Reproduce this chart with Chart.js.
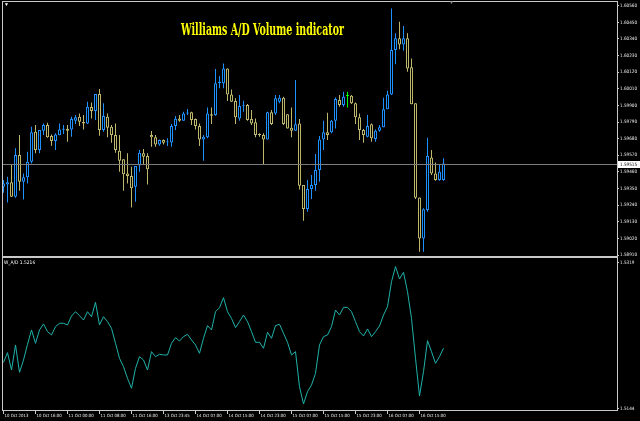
<!DOCTYPE html>
<html><head><meta charset="utf-8">
<script src="https://cdn.jsdelivr.net/npm/chart.js@4.4.1/dist/chart.umd.min.js"></script>
<style>
html,body{margin:0;padding:0;background:#000;width:640px;height:421px;overflow:hidden;}
#wrap{position:relative;width:640px;height:421px;background:#000;}
canvas{position:absolute;left:0;}
#c1{top:0;}
#c2{top:257px;}
.t{position:absolute;white-space:nowrap;}
#title{left:181px;top:22px;font-family:'DejaVu Serif Condensed','DejaVu Serif',serif;font-weight:bold;font-size:16.5px;line-height:16px;color:#ffff00;transform-origin:0 0;}
#hdr{left:4px;top:259px;line-height:7px;color:#ffffff;}
#m1{left:4px;top:2px;font-size:5px;line-height:5px;color:#ffffff;}
#m2{left:449px;top:0px;font-size:5px;line-height:5px;color:#909090;}
</style></head><body>
<div id="wrap">
<canvas id="c1" width="640" height="257"></canvas>
<canvas id="c2" width="640" height="164"></canvas>
<div id="title" class="t">Williams A/D Volume indicator</div>
<div id="hdr" class="t"></div>
<div id="m1" class="t">▼</div>
<div id="m2" class="t">▼</div>
</div>
<script>
// ---- data ----
const timeLabels = ["10 Oct 2013","10 Oct 16:00","11 Oct 00:00","11 Oct 08:00","11 Oct 16:00","13 Oct 23:45","14 Oct 07:00","14 Oct 15:00","14 Oct 23:00","15 Oct 07:00","15 Oct 15:00","15 Oct 23:00","16 Oct 07:00","16 Oct 15:00"];
const priceTicks = [1.58910,1.59020,1.59130,1.59240,1.59350,1.59460,1.59570,1.59680,1.59790,1.59900,1.60010,1.60120,1.60230,1.60340,1.60450,1.60560];
const wadTicks = [1.5319, 1.5144];

const opens = [1.59362,1.59377,1.59391,1.59296,1.59572,1.59395,1.59424,1.59527,1.59726,1.59605,
1.59733,1.59770,1.59697,1.59664,1.59702,1.59739,1.59746,1.59741,1.59799,1.59825,
1.59790,1.59781,1.59889,1.59863,1.59975,1.59737,1.59825,1.59759,1.59704,1.59600,
1.59543,1.59450,1.59433,1.59362,1.59503,1.59583,1.59565,1.59704,1.59689,1.59642,
1.59671,1.59655,1.59655,1.59764,1.59814,1.59799,1.59847,1.59854,1.59810,1.59764,
1.59675,1.59689,1.59841,1.59836,1.60046,1.60046,1.60145,1.59973,1.59929,1.59814,
1.59894,1.59903,1.59810,1.59788,1.59711,1.59704,1.59675,1.59854,1.59847,1.59925,
1.59951,1.59841,1.59753,1.59733,1.59781,1.59373,1.59214,1.59347,1.59373,1.59472,
1.59675,1.59722,1.59722,1.59799,1.59936,1.59903,1.59962,1.59964,1.59914,1.59821,
1.59737,1.59693,1.59775,1.59678,1.59733,1.59755,1.59874,1.59973,1.60267,1.60344,
1.60304,1.60344,1.60152,1.59914,1.59291,1.59020,1.59208,1.59556,1.59450,1.59406,
1.59406];
const highs = [1.59406,1.59428,1.59505,1.59616,1.59704,1.59450,1.59594,1.59759,1.59770,1.59737,
1.59781,1.59786,1.59708,1.59715,1.59781,1.59770,1.59770,1.59825,1.59836,1.59847,
1.59836,1.59925,1.59920,1.59975,1.60008,1.59914,1.59847,1.59770,1.59781,1.59704,
1.59543,1.59583,1.59494,1.59499,1.59605,1.59611,1.59583,1.59730,1.59704,1.59675,
1.59675,1.59682,1.59777,1.59830,1.59836,1.59858,1.59876,1.59858,1.59814,1.59781,
1.59704,1.59887,1.59887,1.60141,1.60094,1.60178,1.60145,1.60006,1.59947,1.59969,
1.59931,1.59909,1.59869,1.59814,1.59715,1.59715,1.59858,1.59869,1.59969,1.59969,
1.59958,1.59841,1.59887,1.60068,1.59810,1.59373,1.59406,1.59439,1.59578,1.59697,
1.59799,1.59852,1.59803,1.59953,1.59969,1.59991,1.59991,1.59969,1.59920,1.59847,
1.59744,1.59836,1.59781,1.59741,1.59770,1.59951,1.59997,1.60542,1.60377,1.60454,
1.60425,1.60377,1.60211,1.59914,1.59291,1.59219,1.59686,1.59605,1.59523,1.59505,
1.59550];
const lows = [1.59322,1.59258,1.59296,1.59289,1.59336,1.59278,1.59384,1.59516,1.59583,1.59583,
1.59704,1.59686,1.59633,1.59605,1.59702,1.59711,1.59660,1.59693,1.59777,1.59764,
1.59741,1.59777,1.59814,1.59803,1.59700,1.59726,1.59689,1.59653,1.59587,1.59461,
1.59336,1.59384,1.59225,1.59263,1.59461,1.59505,1.59377,1.59627,1.59627,1.59633,
1.59642,1.59631,1.59627,1.59737,1.59792,1.59799,1.59836,1.59770,1.59741,1.59631,
1.59534,1.59682,1.59777,1.59832,1.60013,1.60013,1.59929,1.59925,1.59777,1.59799,
1.59858,1.59799,1.59770,1.59689,1.59693,1.59510,1.59675,1.59770,1.59836,1.59914,
1.59770,1.59748,1.59689,1.59733,1.59344,1.59137,1.59197,1.59280,1.59336,1.59395,
1.59605,1.59671,1.59715,1.59748,1.59892,1.59892,1.59887,1.59909,1.59777,1.59671,
1.59653,1.59689,1.59660,1.59660,1.59726,1.59755,1.59874,1.59969,1.60172,1.60271,
1.60262,1.60123,1.59907,1.59280,1.58932,1.58932,1.59197,1.59439,1.59402,1.59402,
1.59402];
const closes = [1.59384,1.59391,1.59296,1.59572,1.59395,1.59424,1.59527,1.59722,1.59605,1.59737,
1.59770,1.59689,1.59664,1.59708,1.59741,1.59746,1.59733,1.59810,1.59821,1.59792,
1.59781,1.59892,1.59863,1.59975,1.59737,1.59830,1.59753,1.59704,1.59605,1.59534,
1.59444,1.59433,1.59351,1.59499,1.59587,1.59561,1.59477,1.59689,1.59642,1.59671,
1.59653,1.59660,1.59764,1.59812,1.59799,1.59847,1.59852,1.59803,1.59764,1.59675,
1.59693,1.59847,1.59832,1.60046,1.60057,1.60145,1.59973,1.59925,1.59821,1.59896,
1.59900,1.59803,1.59781,1.59704,1.59704,1.59675,1.59854,1.59777,1.59947,1.59951,
1.59777,1.59748,1.59733,1.59775,1.59369,1.59214,1.59347,1.59373,1.59472,1.59675,
1.59722,1.59704,1.59799,1.59942,1.59903,1.59958,1.59962,1.59914,1.59821,1.59737,
1.59704,1.59764,1.59682,1.59733,1.59755,1.59874,1.59973,1.60267,1.60344,1.60304,
1.60344,1.60145,1.59907,1.59289,1.59020,1.59212,1.59565,1.59450,1.59406,1.59461,
1.59515];
const wad = [1.51991,1.52107,1.51899,1.52199,1.51871,1.52019,1.52207,1.52379,1.52219,1.52379,
1.52451,1.52359,1.52319,1.52419,1.52459,1.52459,1.52439,1.52546,1.52598,1.52550,
1.52498,1.52598,1.52538,1.52710,1.52439,1.52538,1.52479,1.52399,1.52219,1.52039,
1.51939,1.51799,1.51680,1.51919,1.52059,1.52019,1.51899,1.52119,1.52059,1.52087,
1.52079,1.52079,1.52219,1.52287,1.52247,1.52299,1.52327,1.52259,1.52199,1.52099,
1.52279,1.52431,1.52379,1.52598,1.52646,1.52766,1.52598,1.52518,1.52407,1.52479,
1.52558,1.52479,1.52359,1.52231,1.52231,1.52159,1.52351,1.52279,1.52431,1.52447,
1.52339,1.52231,1.52079,1.52119,1.51700,1.51492,1.51640,1.51719,1.51859,1.52199,
1.52299,1.52319,1.52419,1.52618,1.52558,1.52650,1.52650,1.52598,1.52479,1.52359,
1.52307,1.52391,1.52299,1.52359,1.52427,1.52558,1.52658,1.52958,1.53138,1.52990,
1.53070,1.52838,1.52518,1.52039,1.51588,1.51879,1.52251,1.52119,1.51979,1.52059,
1.52160];

// ---- styling / setup ----
const BULL = '#1E90FF', BEAR = '#BDB76B', DOJI = '#00FF00';
function textW(font, s) { const c = document.createElement('canvas').getContext('2d'); c.font = font; return c.measureText(s).width; }
const probe = '1.60560 10 Oct 2013';
const hasNarrow = Math.abs(textW("40px 'Liberation Sans Narrow', monospace", probe) - textW('40px monospace', probe)) > 0.5;
const FONT = hasNarrow ? "'Liberation Sans Narrow', sans-serif" : "'DejaVu Sans Condensed','DejaVu Sans',sans-serif";
const fsY = Math.round(17 / textW('10px ' + FONT, '1.60560') * 100) / 10;
const fsX = Math.round(24 / textW('10px ' + FONT, '10 Oct 2013') * 100) / 10;
const fsH = Math.round(31 / textW('10px ' + FONT, 'W_A/D 1.5216') * 100) / 10;

const N = closes.length;
const idx = closes.map((_, i) => i);
const colorOf = i => closes[i] > opens[i] ? BULL : (closes[i] < opens[i] ? BEAR : DOJI);
const xMin = -0.375, xMax = 153.375;
const yMin = 1.588968, yMax = 1.605911;
const wMin = 1.514076, wMax = 1.532535;

const hEl = document.getElementById('hdr');
hEl.textContent = 'W_A/D ' + wad[N - 1].toFixed(4);
hEl.style.font = fsH + 'px ' + FONT;
hEl.style.lineHeight = '7px';
const tEl = document.getElementById('title');
const tw = tEl.getBoundingClientRect().width;
tEl.style.transform = 'scaleX(' + (163 / tw) + ')';

const framePlugin = {
  id: 'frame',
  afterDraw(chart) {
    const {ctx, chartArea: a} = chart;
    const l = Math.round(a.left), t = Math.round(a.top), r = Math.round(a.right), b = Math.round(a.bottom);
    ctx.save();
    ctx.strokeStyle = '#c8c8c8';
    ctx.lineWidth = 1;
    ctx.strokeRect(l + 0.5, t + 0.5, r - l, b - t - 1);
    ctx.restore();
  }
};

const bidPlugin = {
  id: 'bid',
  afterDatasetsDraw(chart) {
    const {ctx, chartArea: a, scales} = chart;
    const y = Math.round(scales.y.getPixelForValue(closes[N - 1])) + 0.5;
    ctx.save();
    ctx.strokeStyle = '#7c7c7c';
    ctx.lineWidth = 1;
    ctx.beginPath();
    ctx.moveTo(a.left, y);
    ctx.lineTo(a.right, y);
    ctx.stroke();
    ctx.restore();
  },
  afterDraw(chart) {
    const {ctx, chartArea: a, scales} = chart;
    const y = Math.round(scales.y.getPixelForValue(closes[N - 1]));
    ctx.save();
    ctx.fillStyle = '#ffffff';
    ctx.fillRect(Math.round(a.right) + 1, y - 3, 22, 7);
    ctx.fillStyle = '#000000';
    ctx.font = fsY + 'px ' + FONT;
    ctx.textBaseline = 'middle';
    ctx.fillText(closes[N - 1].toFixed(5), Math.round(a.right) + 3, y + 0.5);
    ctx.restore();
  }
};

new Chart(document.getElementById('c1'), {
  type: 'bar',
  data: {
    datasets: [
      {
        label: 'body',
        data: idx.map(i => ({x: i, y: [opens[i], closes[i]]})),
        backgroundColor: '#000000',
        borderColor: idx.map(colorOf),
        borderWidth: 1,
        borderSkipped: false,
        barThickness: 3,
        grouped: false,
        minBarLength: 1,
        inflateAmount: 0,
        order: 0
      },
      {
        label: 'wick',
        data: idx.map(i => ({x: i, y: [lows[i], highs[i]]})),
        backgroundColor: idx.map(colorOf),
        borderWidth: 0,
        barThickness: 1,
        grouped: false,
        inflateAmount: 0,
        order: 1
      }
    ]
  },
  options: {
    responsive: false,
    animation: false,
    devicePixelRatio: 1,
    layout: {padding: {top: 1, left: 2, right: 0, bottom: 0}},
    plugins: {legend: {display: false}, tooltip: {enabled: false}},
    scales: {
      x: {type: 'linear', min: xMin, max: xMax, offset: false, display: false},
      y: {
        position: 'right', min: yMin, max: yMax,
        afterBuildTicks: s => { s.ticks = priceTicks.map(v => ({value: v})); },
        afterFit: s => { s.width = 23; s.paddingTop = 0; s.paddingBottom = 0; },
        ticks: {color: '#f0f0f0', font: {size: fsY, family: FONT}, padding: 1, autoSkip: false,
                callback: v => Number(v).toFixed(5)},
        grid: {display: true, drawOnChartArea: false, drawTicks: true, tickLength: 2, color: '#c8c8c8'},
        border: {display: false}
      }
    }
  },
  plugins: [framePlugin, bidPlugin]
});

new Chart(document.getElementById('c2'), {
  type: 'line',
  data: {
    datasets: [{
      label: 'W_A/D',
      data: idx.map(i => ({x: i, y: wad[i]})),
      borderColor: '#20B2AA',
      borderWidth: 1,
      pointRadius: 0,
      tension: 0,
      fill: false
    }]
  },
  options: {
    responsive: false,
    animation: false,
    devicePixelRatio: 1,
    layout: {padding: {top: 0, left: 2, right: 0, bottom: 0}},
    plugins: {legend: {display: false}, tooltip: {enabled: false}},
    scales: {
      x: {
        type: 'linear', min: xMin, max: xMax, offset: false, position: 'bottom',
        afterBuildTicks: s => { s.ticks = timeLabels.map((_, k) => ({value: k * 8})); },
        afterFit: s => { s.height = 10; s.paddingLeft = 0; s.paddingRight = 0; },
        ticks: {color: '#f0f0f0', font: {size: fsX, family: FONT}, padding: -1, align: 'start', labelOffset: 1,
                autoSkip: false, maxRotation: 0, minRotation: 0,
                callback: (v, i) => timeLabels[i]},
        grid: {display: true, drawOnChartArea: false, drawTicks: true, tickLength: 3, color: '#c8c8c8'},
        border: {display: false}
      },
      y: {
        position: 'right', min: wMin, max: wMax,
        afterBuildTicks: s => { s.ticks = wadTicks.map(v => ({value: v})); },
        afterFit: s => { s.width = 23; s.paddingTop = 0; s.paddingBottom = 0; },
        ticks: {color: '#f0f0f0', font: {size: fsY, family: FONT}, padding: 1, autoSkip: false,
                callback: v => Number(v).toFixed(4)},
        grid: {display: true, drawOnChartArea: false, drawTicks: true, tickLength: 2, color: '#c8c8c8'},
        border: {display: false}
      }
    }
  },
  plugins: [framePlugin]
});
</script>
</body></html>
